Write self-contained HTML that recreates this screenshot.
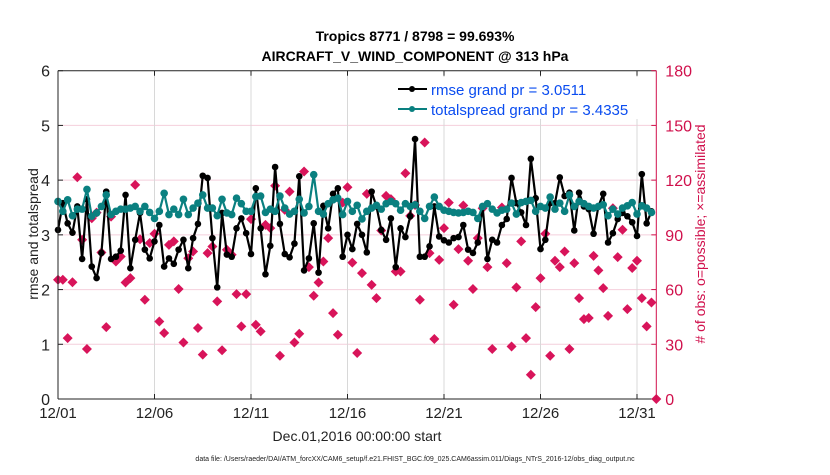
<!DOCTYPE html>
<html><head><meta charset="utf-8"><style>
body{margin:0;background:#fff;}
svg text{font-family:"Liberation Sans",sans-serif;}
</style></head><body>
<svg id="chart" width="830" height="470" viewBox="0 0 830 470" xmlns="http://www.w3.org/2000/svg">
<g id="grid"></g>
<g id="marks"></g>
<g id="axes"></g>
<text x="415" y="41" text-anchor="middle" font-size="14" font-weight="bold">Tropics 8771 / 8798 = 99.693%</text>
<text x="415" y="61" text-anchor="middle" font-size="14" font-weight="bold">AIRCRAFT_V_WIND_COMPONENT @ 313 hPa</text>
<text transform="translate(38,234) rotate(-90)" text-anchor="middle" font-size="14" fill="#222">rmse and totalspread</text>
<text transform="translate(705,234) rotate(-90)" text-anchor="middle" font-size="14" fill="#d0104c">#  of obs: o=possible; ×=assimilated</text>
<text x="357" y="441" text-anchor="middle" font-size="14" fill="#222">Dec.01,2016 00:00:00 start</text>
<text x="415" y="461" text-anchor="middle" font-size="7" fill="#222">data file: /Users/raeder/DAI/ATM_forcXX/CAM6_setup/f.e21.FHIST_BGC.f09_025.CAM6assim.011/Diags_NTrS_2016-12/obs_diag_output.nc</text>
<g>
<rect x="392" y="77" width="252" height="42" fill="#fff"/>
<line x1="398" y1="89" x2="427" y2="89" stroke="#000" stroke-width="2"/><circle cx="412" cy="89" r="3" fill="#000"/>
<text x="431" y="95" font-size="15" fill="#0a4cf0">rmse grand pr = 3.0511</text>
<line x1="398" y1="109" x2="427" y2="109" stroke="#0a8080" stroke-width="2"/><circle cx="412" cy="109" r="3" fill="#0a8080"/>
<text x="431" y="115" font-size="15" fill="#0a4cf0">totalspread grand pr = 3.4335</text>
</g>
</svg>
<script>
const xTickLabels=["12/01","12/06","12/11","12/16","12/21","12/26","12/31"];
const xTickDays=[0,5,10,15,20,25,30];
const yTicks=[0,1,2,3,4,5,6];
const rightTicks=[0,30,60,90,120,150,180];
const rmse=[3.09,3.58,3.21,3.04,3.52,2.56,3.65,2.42,2.21,2.67,3.79,2.56,2.6,2.71,3.73,2.39,2.91,3.4,2.73,2.57,2.88,3.18,2.42,2.57,2.47,2.73,2.91,2.39,2.94,3.2,4.08,4.04,2.94,2.04,3.4,2.64,2.6,
3.12,3.3,3.03,2.65,3.85,3.12,2.28,2.8,4.24,3.2,2.65,2.59,2.84,4.07,2.35,2.57,3.21,2.31,3.53,3.12,3.75,3.85,2.6,3.0,2.74,3.2,3.0,2.68,3.79,3.52,3.09,2.91,3.3,2.41,3.12,2.96,3.34,4.75,2.6,2.6,2.79,3.52,2.97,
2.9,2.86,2.94,2.96,3.18,2.73,2.67,2.86,3.52,2.56,2.91,2.86,3.18,3.29,4.04,3.58,3.41,3.18,4.39,3.67,2.74,2.91,3.58,3.58,4.05,3.71,3.77,3.08,3.77,3.52,3.47,3.02,3.52,3.75,2.86,3.03,3.29,3.4,3.34,3.23,2.98,4.11,3.21,3.43];
const spread=[3.61,3.43,3.64,3.35,3.47,3.47,3.83,3.34,3.4,3.52,3.73,3.37,3.43,3.47,3.47,3.49,3.52,3.43,3.52,3.41,3.3,3.43,3.76,3.37,3.47,3.37,3.65,3.37,3.49,3.58,3.73,3.49,3.49,3.35,3.65,3.4,3.37,
3.67,3.57,3.43,3.43,3.7,3.71,3.41,3.47,3.43,3.71,3.49,3.38,3.43,3.65,3.4,3.52,4.1,3.43,3.38,3.57,3.64,3.67,3.37,3.61,3.43,3.54,3.29,3.43,3.49,3.54,3.47,3.57,3.61,3.57,3.45,3.57,3.52,3.55,3.43,3.3,3.52,3.69,3.52,
3.45,3.43,3.41,3.4,3.41,3.43,3.41,3.3,3.52,3.57,3.47,3.4,3.45,3.47,3.58,3.38,3.59,3.61,3.63,3.43,3.52,3.49,3.69,3.47,3.58,3.43,3.73,3.52,3.61,3.57,3.52,3.49,3.52,3.55,3.35,3.47,3.38,3.49,3.53,3.59,3.38,3.53,3.49,3.41];
const obsIndex=[0,1,2,3,4,5,6,7,8,9,10,11,12,13,14,15,16,17,18,19,20,21,22,23,24,25,26,27,28,29,30,31,32,33,34,35,36,37,38,39,40,41,42,43,44,45,46,47,48,49,50,51,52,53,54,55,56,57,58,59,60,61,62,63,64,65,66,67,68,69,70,71,72,73,74,75,76,77,78,79,80,81,82,83,84,85,86,87,88,89,90,92,93,94,95,96,97,98,99,100,101,102,103,104,105,106,107,108,109,110,111,112,113,114,115,116,117,118,119,120,121,122,123,124];
const obsCount=[65.4,65.4,33.4,64,121.6,87.3,27.4,99.1,102.2,80.3,39.4,100,75.4,78.1,63.9,66.3,117.4,87.6,54.4,85.5,90.6,42.5,36.2,84.5,86.4,60.3,31,77.2,80.9,38.9,24.3,80,83.6,53.5,26.7,81.8,79.1,57.5,39.8,57.5,98.6,40.7,37.1,95.5,93.7,116.9,23.7,103.7,113.7,31,35.8,124.7,72.3,56.6,63.9,75.4,88.2,47.1,35.2,107.7,116.1,74.8,25.2,69,112.5,62.6,55.3,92.4,111.4,109.6,69.9,69.9,123.8,100.4,106.4,54.4,140.6,80,32.9,76.3,93.7,107.7,51.7,82.2,106.1,75.8,60.3,88.2,104.6,72.3,27.4,105,74.5,28.8,61.2,86.4,33.4,13.3,50.4,66.3,90.6,23.7,75.8,72.3,80.9,27.4,74.5,55.3,43.8,44.4,78.5,70.5,60.8,45.6,104.6,77.8,92.8,49.3,71.8,75.8,55.3,39.8,52.9,0];

const X0=58,X1=656.3,Y0=399,Y1=70.7;
const xs=d=>X0+(d/31)*(X1-X0);
const ys=v=>Y0-(v/6)*(Y0-Y1);
const yr=v=>Y0-(v/180)*(Y0-Y1);
const NS="http://www.w3.org/2000/svg";
function mk(tag,attrs,parent){const e=document.createElementNS(NS,tag);for(const k in attrs)e.setAttribute(k,attrs[k]);parent.appendChild(e);return e;}
const grid=document.getElementById('grid'),marks=document.getElementById('marks'),axes=document.getElementById('axes');
mk('rect',{x:X0,y:Y1,width:X1-X0,height:Y0-Y1,fill:'#fff'},grid);
yTicks.forEach(t=>{if(t>0&&t<6){const l=mk('line',{x1:X0,x2:X1,y1:ys(t),y2:ys(t),stroke:'#f4cfdc','stroke-width':1},grid);

}});
xTickDays.forEach(d=>{if(d>0){const l=mk('line',{x1:xs(d),x2:xs(d),y1:Y1,y2:Y0,stroke:'#d8d8d8','stroke-width':1},grid);

}});
// obs diamonds
obsIndex.forEach((ix,i)=>{const cx=xs(ix/4),cy=yr(obsCount[i]);
const p=mk('path',{d:`M${cx},${cy-5}L${cx+5},${cy}L${cx},${cy+5}L${cx-5},${cy}Z`,fill:'#d8145a'},marks);

});
function series(vals,color,r,name){
const pts=vals.map((v,i)=>xs(i/4)+','+ys(v)).join(' ');
const pl=mk('polyline',{points:pts,fill:'none',stroke:color,'stroke-width':2.2,'stroke-linejoin':'round'},marks);


vals.forEach((v,i)=>{const c=mk('circle',{cx:xs(i/4),cy:ys(v),r:r,fill:color},marks);

});}
series(rmse,'#000',3.3,'rmse');
series(spread,'#0a8080',3.8,'totalspread');
// axes
mk('line',{x1:X0,x2:X0,y1:Y1,y2:Y0,stroke:'#222','stroke-width':1},axes);
mk('line',{x1:X0,x2:X1,y1:Y0,y2:Y0,stroke:'#222','stroke-width':1},axes);
mk('line',{x1:X0,x2:X1,y1:Y1,y2:Y1,stroke:'#222','stroke-width':1},axes);
mk('line',{x1:X1,x2:X1,y1:Y1,y2:Y0,stroke:'#d0104c','stroke-width':1},axes);
yTicks.forEach(t=>{mk('line',{x1:X0,x2:X0+5,y1:ys(t),y2:ys(t),stroke:'#222'},axes);
const tx=mk('text',{x:X0-8,y:ys(t)+6,'text-anchor':'end','font-size':16,fill:'#222'},axes);tx.textContent=t;

});
rightTicks.forEach(t=>{mk('line',{x1:X1-5,x2:X1,y1:yr(t),y2:yr(t),stroke:'#d0104c'},axes);
const tx=mk('text',{x:X1+9,y:yr(t)+6,'font-size':16,fill:'#d0104c'},axes);tx.textContent=t;

});
xTickDays.forEach((d,i)=>{mk('line',{x1:xs(d),x2:xs(d),y1:Y0,y2:Y0-5,stroke:'#222'},axes);mk('line',{x1:xs(d),x2:xs(d),y1:Y1,y2:Y1+5,stroke:'#222'},axes);
const tx=mk('text',{x:xs(d),y:Y0+19,'text-anchor':'middle','font-size':15,fill:'#222'},axes);tx.textContent=xTickLabels[i];

});
</script>
</body></html>
